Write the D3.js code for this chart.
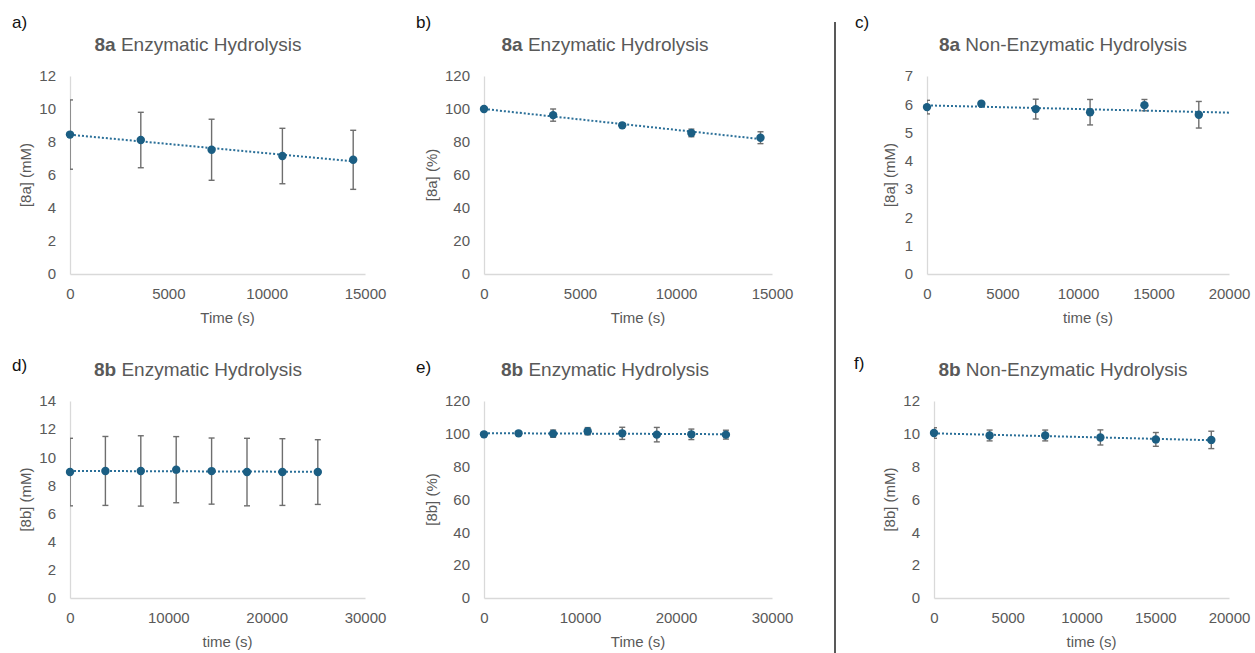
<!DOCTYPE html>
<html>
<head>
<meta charset="utf-8">
<script src="https://cdn.jsdelivr.net/npm/d3@7"></script>
<style>
  html, body { margin: 0; padding: 0; background: #fff; }
  svg { display: block; }
  text { font-family: "Liberation Sans", Arial, sans-serif; }
</style>
</head>
<body>
<svg id="chart" width="1255" height="653"></svg>
<script>
// ---------------- DATA ----------------
const timeA = [0, 3600, 7200, 10800, 14400];
const conc8aEnz = [8.45, 8.12, 7.53, 7.15, 6.92];
const err8aEnz = [2.1, 1.68, 1.85, 1.68, 1.79];

const pct8aEnz = [100, 96.3, 90.1, 85.5, 82.6];
const errPct8aEnz = [0.5, 3.7, 1.0, 2.3, 3.6];

const timeC = [0, 3600, 7200, 10800, 14400, 18000];
const conc8aNon = [5.9, 6.02, 5.83, 5.72, 5.97, 5.63];
const err8aNon = [0.24, 0.08, 0.35, 0.45, 0.2, 0.47];

const timeD = [0, 3600, 7200, 10800, 14400, 18000, 21600, 25200];
const conc8bEnz = [8.95, 9.03, 9.03, 9.12, 9.02, 8.95, 8.95, 8.95];
const err8bEnz = [2.4, 2.45, 2.5, 2.35, 2.35, 2.4, 2.37, 2.3];

const pct8bEnz = [99.7, 100.3, 100.1, 101.6, 100.3, 99.5, 99.7, 99.5];
const errPct8bEnz = [0.5, 1.0, 2.2, 2.2, 3.7, 4.4, 3.2, 2.7];

const timeF = [0, 3770, 7540, 11280, 15040, 18800];
const conc8bNon = [10.05, 9.9, 9.9, 9.78, 9.66, 9.63];
const err8bNon = [0.32, 0.33, 0.33, 0.46, 0.42, 0.53];

const ticksMM12 = [0, 2, 4, 6, 8, 10, 12];
const ticksMM14 = [0, 2, 4, 6, 8, 10, 12, 14];
const ticksMM7 = [0, 1, 2, 3, 4, 5, 6, 7];
const ticksPct = [0, 20, 40, 60, 80, 100, 120];
const ticksT15 = [0, 5000, 10000, 15000];
const ticksT20 = [0, 5000, 10000, 15000, 20000];
const ticksT30 = [0, 10000, 20000, 30000];

const panelLabels = ["a)", "b)", "c)", "d)", "e)", "f)"];
const compounds = ["8a", "8a", "8a", "8b", "8b", "8b"];
const titleTexts = ["Enzymatic Hydrolysis", "Enzymatic Hydrolysis", "Non-Enzymatic Hydrolysis",
                    "Enzymatic Hydrolysis", "Enzymatic Hydrolysis", "Non-Enzymatic Hydrolysis"];
const yTitles = ["[8a] (mM)", "[8a] (%)", "[8a] (mM)", "[8b] (mM)", "[8b] (%)", "[8b] (mM)"];
const xTitles = ["Time (s)", "Time (s)", "time (s)", "time (s)", "Time (s)", "time (s)"];

// ---------------- LAYOUT ----------------
const panels = [
  { x: timeA, y: conc8aEnz, e: err8aEnz, yt: ticksMM12, xt: ticksT15, trendTo: null,
    L: 70, R: 365, T: 76, B: 274, lab: [12, 28], titleX: 198, titleY: 51, ytX: 26 },
  { x: timeA, y: pct8aEnz, e: errPct8aEnz, yt: ticksPct, xt: ticksT15, trendTo: null,
    L: 484, R: 772, T: 76, B: 274, lab: [416, 28], titleX: 605, titleY: 51, ytX: 432 },
  { x: timeC, y: conc8aNon, e: err8aNon, yt: ticksMM7, xt: ticksT20, trendTo: 20000,
    L: 927, R: 1229, T: 76, B: 274, lab: [855, 28], titleX: 1063, titleY: 51, ytX: 890 },
  { x: timeD, y: conc8bEnz, e: err8bEnz, yt: ticksMM14, xt: ticksT30, trendTo: null,
    L: 70, R: 365, T: 401, B: 598, lab: [12, 371], titleX: 198, titleY: 376, ytX: 26 },
  { x: timeD, y: pct8bEnz, e: errPct8bEnz, yt: ticksPct, xt: ticksT30, trendTo: null,
    L: 484, R: 772, T: 401, B: 598, lab: [416, 373], titleX: 605, titleY: 376, ytX: 432 },
  { x: timeF, y: conc8bNon, e: err8bNon, yt: ticksMM12, xt: ticksT20, trendTo: null,
    L: 934, R: 1229, T: 401, B: 598, lab: [854, 369], titleX: 1063, titleY: 376, ytX: 890 }
];

const svg = d3.select("#chart");
const textCol = "#595959";
const axisCol = "#d9d9d9";
const markCol = "#1b5e83";
const trendCol = "#2a6f98";
const errCol = "#6e6e6e";

// divider
svg.append("line").attr("x1", 835).attr("x2", 835).attr("y1", 22).attr("y2", 653)
  .attr("stroke", "#222").attr("stroke-width", 1.5);

function linreg(xs, ys) {
  const n = xs.length;
  const mx = d3.mean(xs), my = d3.mean(ys);
  let sxy = 0, sxx = 0;
  for (let i = 0; i < n; i++) { sxy += (xs[i] - mx) * (ys[i] - my); sxx += (xs[i] - mx) ** 2; }
  const m = sxy / sxx;
  return { m, b: my - m * mx };
}

panels.forEach((p, i) => {
  const g = svg.append("g");
  const xs = d3.scaleLinear().domain([0, d3.max(p.xt)]).range([p.L, p.R]);
  const ys = d3.scaleLinear().domain([0, d3.max(p.yt)]).range([p.B, p.T]);

  // panel label
  g.append("text").attr("x", p.lab[0]).attr("y", p.lab[1])
    .attr("font-size", 17).attr("fill", "#111").attr("font-weight", 500).text(panelLabels[i]);

  // title
  const t = g.append("text").attr("x", p.titleX).attr("y", p.titleY)
    .attr("text-anchor", "middle").attr("font-size", 19).attr("fill", textCol);
  t.append("tspan").attr("font-weight", "bold").text(compounds[i]);
  t.append("tspan").text(" " + titleTexts[i]);

  // axes
  const yAxis = d3.axisLeft(ys).tickValues(p.yt).tickSize(0).tickPadding(14).tickFormat(d3.format("d"));
  const xAxis = d3.axisBottom(xs).tickValues(p.xt).tickSize(0).tickPadding(14).tickFormat(d3.format("d"));
  const ya = g.append("g").attr("transform", `translate(${p.L},0)`).call(yAxis);
  const xa = g.append("g").attr("transform", `translate(0,${p.B})`).call(xAxis);
  [ya, xa].forEach(a => {
    a.select(".domain").attr("stroke", axisCol).attr("stroke-width", 1.3);
    a.selectAll("text").attr("fill", textCol).attr("font-size", 15)
      .attr("font-family", "'Liberation Sans', Arial, sans-serif");
  });

  // axis titles
  g.append("text").attr("x", (p.L + p.R) / 2 + 10).attr("y", p.B + 49)
    .attr("text-anchor", "middle").attr("font-size", 15).attr("fill", textCol).text(xTitles[i]);
  g.append("text").attr("transform", `translate(${p.ytX},${(p.T + p.B) / 2}) rotate(-90)`)
    .attr("dy", "0.35em").attr("text-anchor", "middle").attr("font-size", 15).attr("fill", textCol).text(yTitles[i]);

  // clip
  const cid = "clip" + i;
  svg.append("clipPath").attr("id", cid).append("rect")
    .attr("x", p.L).attr("y", p.T - 10).attr("width", p.R - p.L).attr("height", p.B - p.T + 10);

  const pts = p.x.map((x, j) => ({ x, y: p.y[j], e: p.e[j] }));

  // error bars
  const eg = g.append("g").attr("clip-path", `url(#${cid})`)
    .attr("stroke", errCol).attr("stroke-width", 1.4);
  pts.forEach(d => {
    const cx = xs(d.x), y1 = ys(d.y + d.e), y2 = ys(d.y - d.e);
    eg.append("line").attr("x1", cx).attr("x2", cx).attr("y1", y1).attr("y2", y2);
    eg.append("line").attr("x1", cx - 3).attr("x2", cx + 3).attr("y1", y1).attr("y2", y1);
    eg.append("line").attr("x1", cx - 3).attr("x2", cx + 3).attr("y1", y2).attr("y2", y2);
  });

  // trendline
  const r = linreg(p.x, p.y);
  const x0 = 0, x1 = p.trendTo !== null ? p.trendTo : d3.max(p.x);
  g.append("line")
    .attr("x1", xs(x0)).attr("y1", ys(r.m * x0 + r.b))
    .attr("x2", xs(x1)).attr("y2", ys(r.m * x1 + r.b))
    .attr("stroke", trendCol).attr("stroke-width", 2).attr("stroke-dasharray", "2,2");

  // markers
  g.selectAll("circle.pt").data(pts).enter().append("circle")
    .attr("cx", d => xs(d.x)).attr("cy", d => ys(d.y)).attr("r", 4.2).attr("fill", markCol);
});
</script>
</body>
</html>
